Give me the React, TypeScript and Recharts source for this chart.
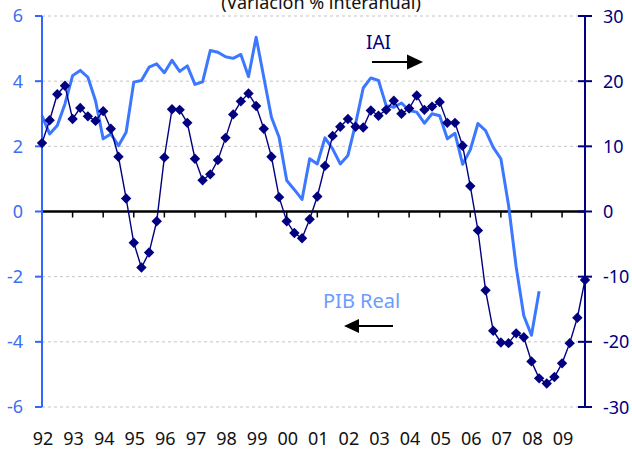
import React from 'react';
import { LineChart, Line, XAxis, YAxis, CartesianGrid, ReferenceLine } from 'recharts';

// Years shown on the category axis (one label per Q1)
const years = ['92', '93', '94', '95', '96', '97', '98', '99', '00', '01', '02', '03', '04', '05', '06', '07', '08', '09'];
const quarters = ['I', 'II', 'III', 'IV'];

// PIB Real, % interanual (left axis), ends in 2008 Q2
const pibReal = [
  2.94, 2.38, 2.64, 3.30, 4.17, 4.33, 4.12, 3.40, 2.23, 2.38, 2.02, 2.43,
  3.97, 4.02, 4.43, 4.53, 4.26, 4.64, 4.30, 4.47, 3.90, 3.98, 4.94, 4.89,
  4.75, 4.70, 4.82, 4.14, 5.35, 4.12, 2.89, 2.28, 0.95, 0.67, 0.37, 1.62,
  1.46, 2.26, 1.92, 1.46, 1.72, 2.69, 3.79, 4.10, 4.02, 3.25, 3.2, 3.33,
  3.10, 3.05, 2.71, 3.0, 2.94, 2.23, 2.40, 1.45, 1.89, 2.70, 2.48, 1.97,
  1.62, 0.2, -1.7, -3.2, -3.8, -2.45,
];

// IAI, % interanual (right axis)
const iai = [
  10.5, 14.0, 18.0, 19.3, 14.2, 15.9, 14.6, 13.9, 15.4, 12.7, 8.4, 2.0,
  -4.8, -8.6, -6.3, -1.5, 8.3, 15.7, 15.6, 13.6, 8.1, 4.8, 5.7, 7.9,
  11.3, 14.9, 16.9, 18.1, 16.2, 12.7, 8.4, 2.2, -1.5, -3.3, -4.1, -1.2,
  2.3, 7.0, 11.6, 13.0, 14.2, 13.0, 12.9, 15.5, 14.7, 15.6, 17.0, 15.0,
  15.8, 17.8, 15.6, 16.1, 16.8, 13.6, 13.6, 10.1, 3.9, -2.9, -12.1, -18.3,
  -20.1, -20.2, -18.7, -19.3, -23.0, -25.6, -26.4, -25.4, -23.3, -20.2, -16.3, -10.5,
];

const leftTicks = [-6, -4, -2, 0, 2, 4, 6];
const rightTicks = [-30, -20, -10, 0, 10, 20, 30];

const data = years.flatMap((y, yi) =>
  quarters.map((q, qi) => {
    const i = yi * 4 + qi;
    return { key: `${y}-${q}`, pib: i < pibReal.length ? pibReal[i] : null, iai: iai[i] };
  })
);

const FONT = 'Noto Sans';
const NAVY = '#000080';
const BLUE_AXIS = '#3366ff';

// black zero line with a small tick at the start of every year
const ZeroLine = (props: any) => {
  const { x1, y1, x2, y2 } = props;
  const n = data.length - 1;
  const marks = [];
  for (let i = 4; i < data.length; i += 4) {
    const x = x1 + ((x2 - x1) * i) / n;
    marks.push(<line key={i} x1={x} x2={x} y1={y1} y2={y1 + 6} stroke="#000" strokeWidth={1.5} />);
  }
  return (
    <g>
      <line x1={x1} y1={y1} x2={x2} y2={y2} stroke="#000" strokeWidth={2.5} />
      {marks}
    </g>
  );
};

const Diamond = (props: any) => {
  const { cx, cy, index } = props;
  if (cx == null || cy == null) return null;
  const r = 5.2;
  return (
    <polygon
      key={`d-${index}`}
      points={`${cx},${cy - r} ${cx + r},${cy} ${cx},${cy + r} ${cx - r},${cy}`}
      fill={NAVY}
    />
  );
};

const YearTick = (props: any) => {
  const { x, y, payload } = props;
  return (
    <text x={x + 1} y={y} dy={30} textAnchor="middle" fill="#111" fontSize={18} fontFamily={FONT}>
      {String(payload.value).split('-')[0]}
    </text>
  );
};

const RightTick = (props: any) => {
  const { x, y, payload } = props;
  return (
    <g>
      <line x1={x - 25} x2={x - 18} y1={y} y2={y} stroke={NAVY} strokeWidth={2} />
      <text x={x} y={y} dy={6.5} fill={NAVY} fontSize={18} fontFamily={FONT}>
        {payload.value}
      </text>
    </g>
  );
};

const App: React.FC = () => {
  return (
    <div style={{ position: 'absolute', left: 0, top: 0, width: 632, height: 449, background: '#fff' }}>
      <LineChart width={632} height={449} data={data} margin={{ top: 16, right: 0, bottom: 0, left: 0 }}>
        <CartesianGrid yAxisId="left" vertical={false} stroke="#c4c4c4" strokeDasharray="3 3" />
        <XAxis
          dataKey="key"
          ticks={years.map((y) => `${y}-I`)}
          interval={0}
          height={42}
          axisLine={false}
          tickLine={false}
          tickSize={8}
          tickMargin={0}
          tick={<YearTick />}
        />
        <YAxis
          yAxisId="left"
          domain={[-6, 6]}
          ticks={leftTicks}
          width={42}
          axisLine={{ stroke: BLUE_AXIS, strokeWidth: 2 }}
          tickLine={{ stroke: BLUE_AXIS, strokeWidth: 2 }}
          tickSize={7}
          tickMargin={12}
          tick={{ fill: '#3d6ef5', fontSize: 18, fontFamily: FONT }}
        />
        <YAxis
          yAxisId="right"
          orientation="right"
          domain={[-30, 30]}
          ticks={rightTicks}
          width={47}
          axisLine={{ stroke: NAVY, strokeWidth: 2 }}
          tickLine={{ stroke: NAVY, strokeWidth: 2 }}
          tickSize={7}
          tickMargin={11}
          tick={<RightTick />}
        />
        <ReferenceLine yAxisId="left" y={0} shape={ZeroLine} />
        <Line
          yAxisId="left"
          type="linear"
          dataKey="pib"
          stroke="#3b78ff"
          strokeWidth={3}
          strokeLinejoin="round"
          dot={false}
          activeDot={false}
          isAnimationActive={false}
        />
        <Line
          yAxisId="right"
          type="linear"
          dataKey="iai"
          stroke={NAVY}
          strokeWidth={1.4}
          dot={Diamond}
          activeDot={false}
          isAnimationActive={false}
        />
      </LineChart>
      <svg width={632} height={449} style={{ position: 'absolute', left: 0, top: 0, pointerEvents: 'none' }}>
        <text x={321} y={9} textAnchor="middle" fontSize={18} fontFamily={FONT} fill="#111">
          (Variación % interanual)
        </text>
        <text x={366} y={49} fontSize={19} fontFamily={FONT} fill={NAVY}>
          IAI
        </text>
        <line x1={372} y1={62} x2={409} y2={62} stroke="#000" strokeWidth={2} />
        <polygon points="407,54.5 423,62 407,69.5" fill="#000" />
        <text x={323} y={308} fontSize={20} fontFamily={FONT} fill="#6b9bff">
          PIB Real
        </text>
        <line x1={357} y1={326} x2={393} y2={326} stroke="#000" strokeWidth={2} />
        <polygon points="359,319 344,326 359,333" fill="#000" />
      </svg>
    </div>
  );
};

export default App;
